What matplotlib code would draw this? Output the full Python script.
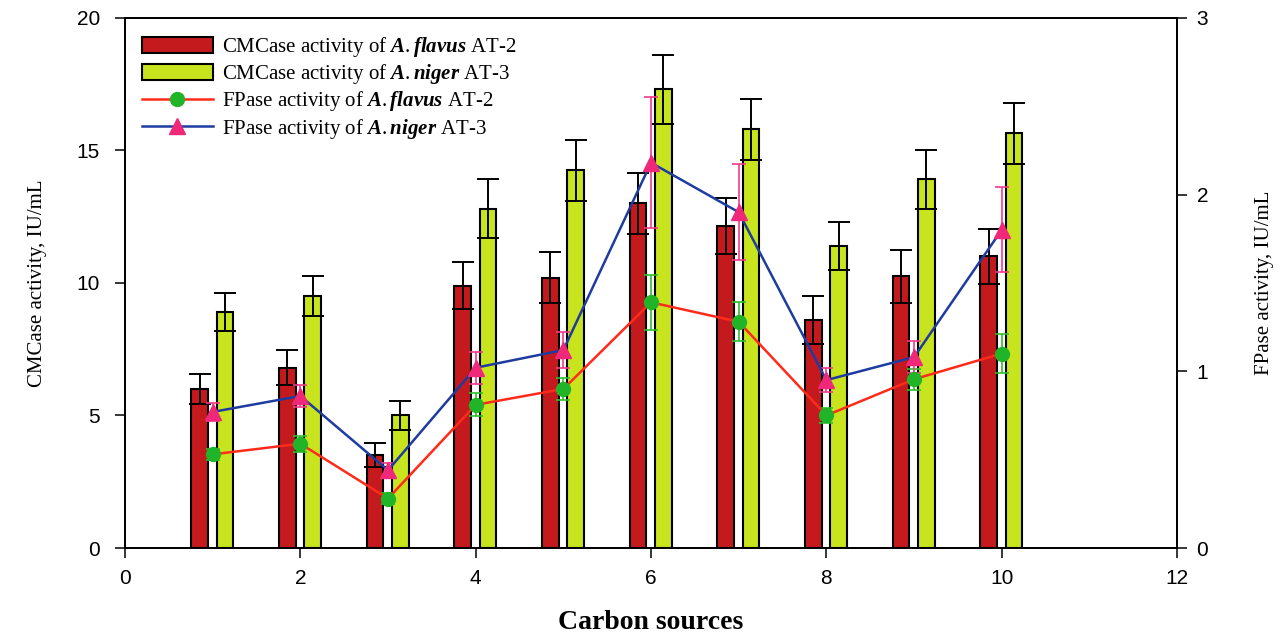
import numpy as np
import matplotlib
matplotlib.use("Agg")
import matplotlib.pyplot as plt

# carbon source index
sources = [1, 2, 3, 4, 5, 6, 7, 8, 9, 10]

# CMCase activity (IU/mL), left axis
cmc_flavus = [6.0, 6.8, 3.5, 9.9, 10.2, 13.0, 12.15, 8.6, 10.25, 11.0]
cmc_flavus_err = [0.55, 0.65, 0.45, 0.9, 0.95, 1.15, 1.05, 0.9, 1.0, 1.05]
cmc_niger = [8.9, 9.5, 5.0, 12.8, 14.25, 17.3, 15.8, 11.4, 13.9, 15.65]
cmc_niger_err = [0.7, 0.75, 0.55, 1.1, 1.15, 1.3, 1.15, 0.9, 1.1, 1.15]

# FPase activity (IU/mL), right axis
fp_flavus = [0.53, 0.59, 0.28, 0.81, 0.9, 1.39, 1.28, 0.75, 0.955, 1.10]
fp_flavus_err = [0.03, 0.045, 0.03, 0.065, 0.06, 0.155, 0.11, 0.04, 0.06, 0.11]
fp_niger = [0.77, 0.86, 0.44, 1.02, 1.12, 2.18, 1.90, 0.95, 1.08, 1.80]
fp_niger_err = [0.05, 0.06, 0.04, 0.09, 0.1, 0.37, 0.27, 0.07, 0.09, 0.24]

labels = [
    r"CMCase activity of $\mathit{A.flavus}$ AT-2",
    r"CMCase activity of $\mathit{A.niger}$ AT-3",
    r"FPase activity of $\mathit{A.flavus}$ AT-2",
    r"FPase activity of $\mathit{A.niger}$ AT-3",
]

plt.rcParams["mathtext.fontset"] = "custom"
plt.rcParams["mathtext.rm"] = "Liberation Serif"
plt.rcParams["mathtext.it"] = "Liberation Serif:italic:bold"
plt.rcParams["font.family"] = "Liberation Sans"

red = "#C41A1E"
lime = "#C8E41E"

fig = plt.figure(figsize=(12.85, 6.35), dpi=100)
ax = fig.add_subplot(111)
fig.subplots_adjust(left=0.0973, right=0.916, bottom=0.137, top=0.972)

x = np.array(sources, dtype=float)
w = 0.19
ekw = dict(ecolor="black", elinewidth=1.4, capsize=8, capthick=1.4)
b1 = ax.bar(x - 0.15, cmc_flavus, w, yerr=cmc_flavus_err, color=red,
            edgecolor="black", linewidth=1.5, error_kw=ekw)
b2 = ax.bar(x + 0.14, cmc_niger, w, yerr=cmc_niger_err, color=lime,
            edgecolor="black", linewidth=1.5, error_kw=ekw)

ax.set_xlim(0, 12)
ax.set_ylim(0, 20)
ax.set_xticks([0, 2, 4, 6, 8, 10, 12])
ax.set_yticks([0, 5, 10, 15, 20])

ax2 = ax.twinx()
ax2.set_ylim(0, 3)
ax2.set_yticks([0, 1, 2, 3])

ax2.errorbar(x, fp_flavus, yerr=fp_flavus_err, fmt="none", ecolor="#30C030",
             elinewidth=1.2, capsize=5, capthick=1.2)
ax2.errorbar(x, fp_niger, yerr=fp_niger_err, fmt="none", ecolor="#F03C8C",
             elinewidth=1.2, capsize=5, capthick=1.2)
l1, = ax2.plot(x, fp_flavus, color="#FF2A1A", lw=1.8, marker="o",
               markersize=10, markerfacecolor="#22B428",
               markeredgecolor="#22B428")
l2, = ax2.plot(x, fp_niger, color="#1E3CA0", lw=1.8, marker="^",
               markersize=11, markerfacecolor="#F0287A",
               markeredgecolor="#F0287A")

for a in (ax, ax2):
    a.tick_params(direction="out", length=7, width=1.1, labelsize=15)
    for s in a.spines.values():
        s.set_linewidth(1.3)
ax.tick_params(axis="y", pad=11)
ax.tick_params(axis="x", pad=8)
ax2.tick_params(axis="y", pad=7)

ax.set_xlabel("Carbon sources", family="Liberation Serif", fontsize=20,
              fontweight="bold", labelpad=16)
ax.set_ylabel("CMCase activity, IU/mL", family="Liberation Serif",
              fontsize=15, labelpad=21)
ax2.set_ylabel("FPase activity, IU/mL", family="Liberation Serif",
               fontsize=15, labelpad=34)

leg = ax2.legend([b1, b2, l1, l2], labels, loc="upper left",
                 bbox_to_anchor=(0.008, 0.983), frameon=False,
                 prop={"family": "Liberation Serif", "size": 15},
                 handlelength=3.4, handleheight=0.85, labelspacing=0.15,
                 handletextpad=0.45, borderaxespad=0, numpoints=1)

fig.savefig("out.png", dpi=100)
